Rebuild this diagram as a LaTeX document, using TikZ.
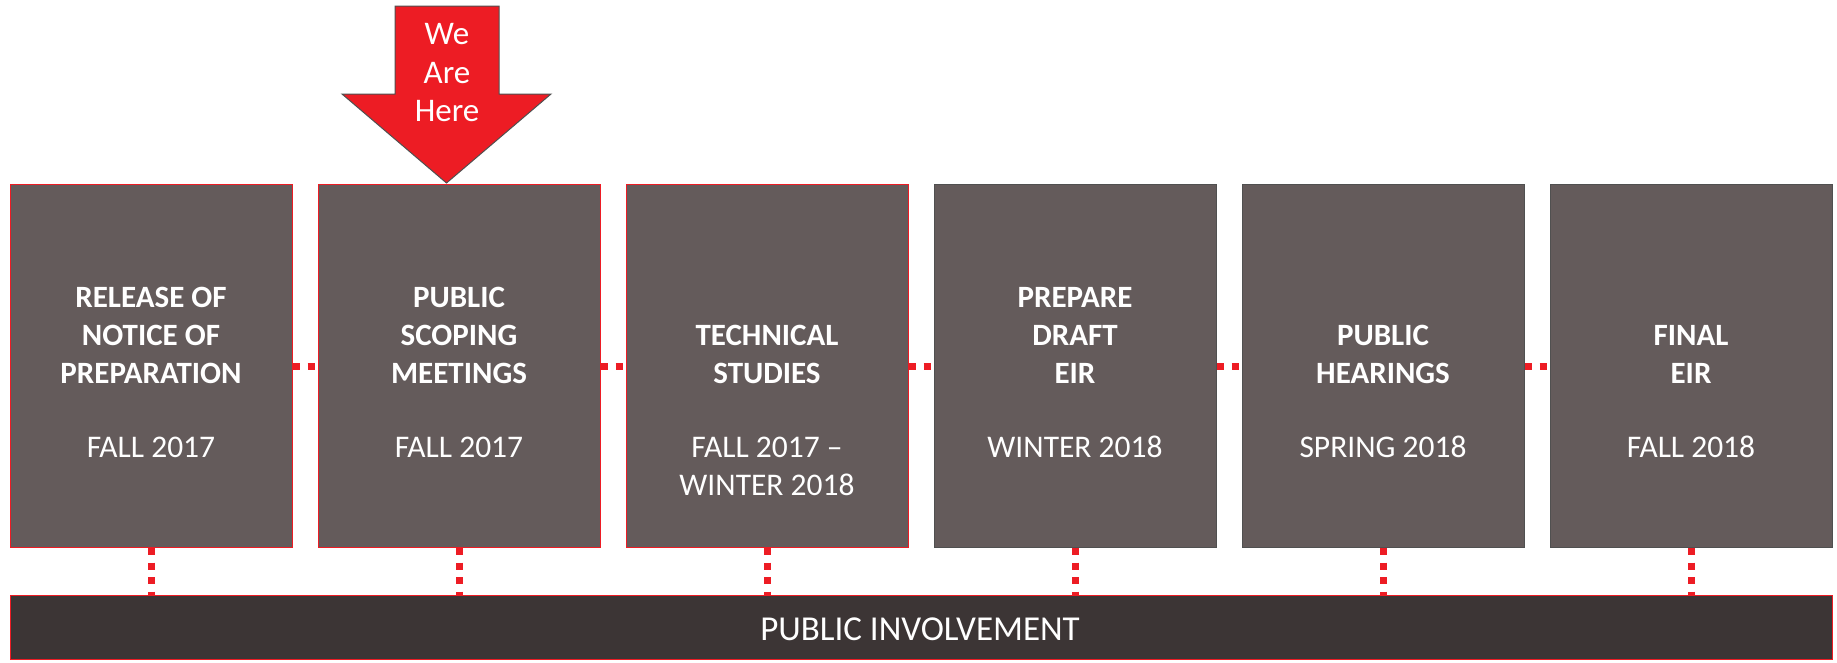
\documentclass[tikz,border=0pt]{standalone}
\usepackage{fontspec}
\setmainfont{Carlito}
\definecolor{boxfill}{RGB}{100,91,91}
\definecolor{barfill}{RGB}{60,53,53}
\definecolor{tlred}{RGB}{237,28,36}
\definecolor{edgegray}{RGB}{80,80,80}
\begin{document}
\begin{tikzpicture}[x=1pt,y=-1pt,
  stagebox/.style={draw, line width=1.2pt, fill=boxfill, minimum width=282pt, minimum height=363pt, anchor=north west, inner sep=0pt},
  rededge/.style={draw=tlred},
  grayedge/.style={draw=edgegray},
  title/.style={text=white, font=\fontsize{31}{36}\selectfont\bfseries, anchor=base, inner sep=0pt},
  date/.style={text=white, font=\fontsize{31.5}{36}\selectfont, anchor=base, inner sep=0pt},
  arrowtext/.style={text=white, font=\fontsize{33}{38}\selectfont, anchor=base, inner sep=0pt},
  dots/.style={draw=tlred, line width=7pt, dash pattern=on 7pt off 7.5pt, line cap=butt}]
\useasboundingbox (0,0) rectangle (1837,662);
% stage boxes
\node[stagebox, rededge] (b1) at (10,184) {};
\node[stagebox, rededge] (b2) at (318,184) {};
\node[stagebox, rededge] (b3) at (626,184) {};
\node[stagebox, grayedge] (b4) at (934,184) {};
\node[stagebox, grayedge] (b5) at (1242,184) {};
\node[stagebox, grayedge] (b6) at (1550,184) {};
% bottom bar
\node[draw=tlred, line width=1.2pt, fill=barfill, minimum width=1822pt, minimum height=64pt, anchor=north west, inner sep=0pt] (bar) at (10,595) {};
\node[text=white, font=\fontsize{35}{40}\selectfont, inner sep=0pt] (barlabel) at (920,629) {PUBLIC INVOLVEMENT};
% horizontal connectors
\draw[dots] (b1.east) -- (b2.west);
\draw[dots] (b2.east) -- (b3.west);
\draw[dots] (b3.east) -- (b4.west);
\draw[dots] (b4.east) -- (b5.west);
\draw[dots] (b5.east) -- (b6.west);
% vertical connectors
\foreach \b in {b1,b2,b3,b4,b5,b6}{
  \draw[dots] (\b.south) -- (\b.south |- bar.north);
}
% box 1
\node[title] (t1a) at (151,307.5) {RELEASE OF};
\node[title] (t1b) at (151,345.5) {NOTICE OF};
\node[title] (t1c) at (151,383) {PREPARATION};
\node[date] (d1) at (151,457) {FALL 2017};
% box 2
\node[title] (t2a) at (459,307.5) {PUBLIC};
\node[title] (t2b) at (459,345.5) {SCOPING};
\node[title] (t2c) at (459,383) {MEETINGS};
\node[date] (d2) at (459,457) {FALL 2017};
% box 3
\node[title] (t3a) at (767,345.5) {TECHNICAL};
\node[title] (t3b) at (767,383) {STUDIES};
\node[date] (d3a) at (767,457) {FALL 2017 –};
\node[date] (d3b) at (767,495) {WINTER 2018};
% box 4
\node[title] (t4a) at (1075,307.5) {PREPARE};
\node[title] (t4b) at (1075,345.5) {DRAFT};
\node[title] (t4c) at (1075,383) {EIR};
\node[date] (d4) at (1075,457) {WINTER 2018};
% box 5
\node[title] (t5a) at (1383,345.5) {PUBLIC};
\node[title] (t5b) at (1383,383) {HEARINGS};
\node[date] (d5) at (1383,457) {SPRING 2018};
% box 6
\node[title] (t6a) at (1691,345.5) {FINAL};
\node[title] (t6b) at (1691,383) {EIR};
\node[date] (d6) at (1691,457) {FALL 2018};
% "We Are Here" arrow
\coordinate (tip) at (446.5,183);
\draw[draw=edgegray, line width=1pt, fill=tlred, line join=miter]
  (395,6) -- (499,6) -- (499,94) -- (551,94) -- (tip) -- (342,94) -- (395,94) -- cycle;
\node[arrowtext] (w1) at (447,44.3) {We};
\node[arrowtext] (w2) at (447,83.3) {Are};
\node[arrowtext] (w3) at (447,121.7) {Here};
\end{tikzpicture}
\end{document}
